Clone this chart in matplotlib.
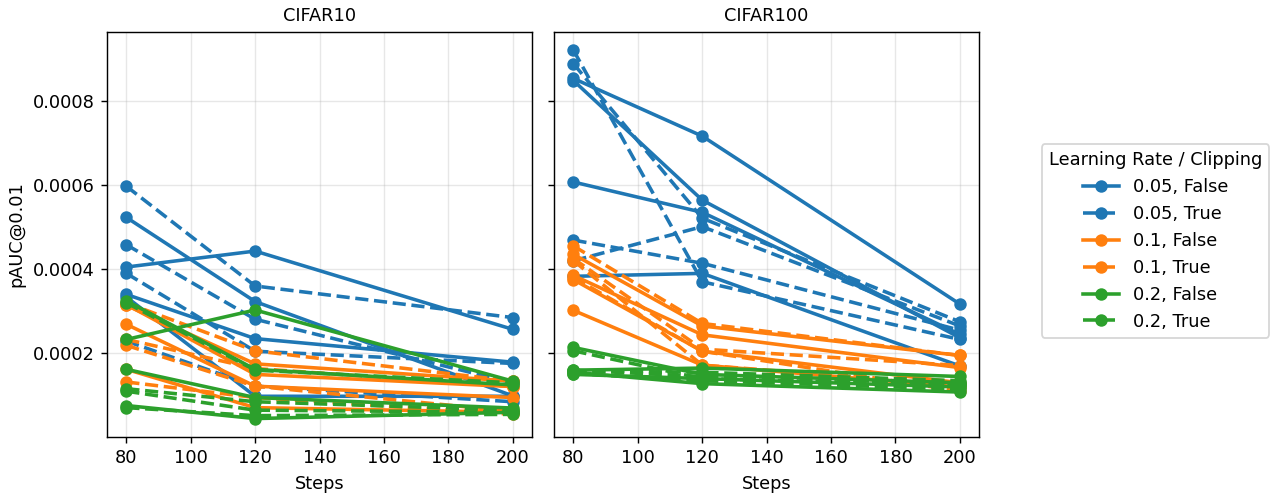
import numpy as np
import matplotlib
matplotlib.use('Agg')
import matplotlib.pyplot as plt

plt.rcParams['font.size'] = 10

steps = [80, 120, 200]
groups = ['0.05, False', '0.05, True', '0.1, False', '0.1, True', '0.2, False', '0.2, True']
colors = ['#1f77b4', '#1f77b4', '#ff7f0e', '#ff7f0e', '#2ca02c', '#2ca02c']
styles = ['-', '--', '-', '--', '-', '--']

# pAUC@0.01 per run, CIFAR10
cifar10 = {
    '0.05, False': [[0.000405, 0.000443, 0.000257],
                    [0.000523, 0.000323, 0.000099],
                    [0.000340, 0.000235, 0.000179],
                    [0.000334, 0.000098, 0.000098]],
    '0.05, True': [[0.000597, 0.000360, 0.000285],
                   [0.000458, 0.000281, 0.000130],
                   [0.000390, 0.000205, 0.000176],
                   [0.000229, 0.000122, 0.000085]],
    '0.1, False': [[0.000314, 0.000175, 0.000134],
                   [0.000316, 0.000150, 0.000121],
                   [0.000269, 0.000122, 0.000095],
                   [0.000162, 0.000071, 0.000060]],
    '0.1, True': [[0.000320, 0.000206, 0.000134],
                  [0.000233, 0.000164, 0.000121],
                  [0.000219, 0.000122, 0.000062],
                  [0.000132, 0.000095, 0.000055]],
    '0.2, False': [[0.000233, 0.000303, 0.000134],
                   [0.000325, 0.000162, 0.000125],
                   [0.000162, 0.000095, 0.000070],
                   [0.000076, 0.000045, 0.000060]],
    '0.2, True': [[0.000320, 0.000160, 0.000130],
                  [0.000116, 0.000085, 0.000065],
                  [0.000110, 0.000065, 0.000060],
                  [0.000071, 0.000052, 0.000055]],
}

# pAUC@0.01 per run, CIFAR100
cifar100 = {
    '0.05, False': [[0.000853, 0.000716, 0.000317],
                    [0.000848, 0.000564, 0.000237],
                    [0.000607, 0.000535, 0.000245],
                    [0.000383, 0.000390, 0.000170]],
    '0.05, True': [[0.000920, 0.000370, 0.000233],
                   [0.000888, 0.000521, 0.000275],
                   [0.000469, 0.000414, 0.000255],
                   [0.000420, 0.000501, 0.000265]],
    '0.1, False': [[0.000435, 0.000265, 0.000195],
                   [0.000385, 0.000244, 0.000166],
                   [0.000375, 0.000205, 0.000130],
                   [0.000302, 0.000172, 0.000120]],
    '0.1, True': [[0.000455, 0.000271, 0.000195],
                  [0.000425, 0.000210, 0.000171],
                  [0.000420, 0.000172, 0.000125],
                  [0.000380, 0.000205, 0.000110]],
    '0.2, False': [[0.000214, 0.000150, 0.000130],
                   [0.000160, 0.000165, 0.000145],
                   [0.000155, 0.000128, 0.000108],
                   [0.000150, 0.000140, 0.000120]],
    '0.2, True': [[0.000206, 0.000140, 0.000125],
                  [0.000158, 0.000155, 0.000135],
                  [0.000152, 0.000135, 0.000115],
                  [0.000160, 0.000145, 0.000128]],
}

fig, axes = plt.subplots(1, 2, figsize=(10, 3.890625), dpi=128, sharey=True)
fig.subplots_adjust(left=0.0836, right=0.765, top=0.936, bottom=0.1225, wspace=0.052)

handles = []
for ax, data, title in zip(axes, [cifar10, cifar100], ['CIFAR10', 'CIFAR100']):
    for g, c, ls in zip(groups, colors, styles):
        for i, run in enumerate(data[g]):
            line, = ax.plot(steps, run, color=c, linestyle=ls, marker='o',
                            linewidth=2, markersize=6)
            if ax is axes[0] and i == 0:
                handles.append(line)
    ax.set_title(title, fontsize=10)
    ax.set_xlabel('Steps')
    ax.set_xticks([80, 100, 120, 140, 160, 180, 200])
    ax.grid(True, alpha=0.3)

axes[0].set_ylabel('pAUC@0.01')
axes[0].set_yticks([0.0002, 0.0004, 0.0006, 0.0008])

fig.legend(handles, groups, title='Learning Rate / Clipping', loc='center left',
           bbox_to_anchor=(0.807, 0.516))

plt.savefig('out.png', dpi=128)
